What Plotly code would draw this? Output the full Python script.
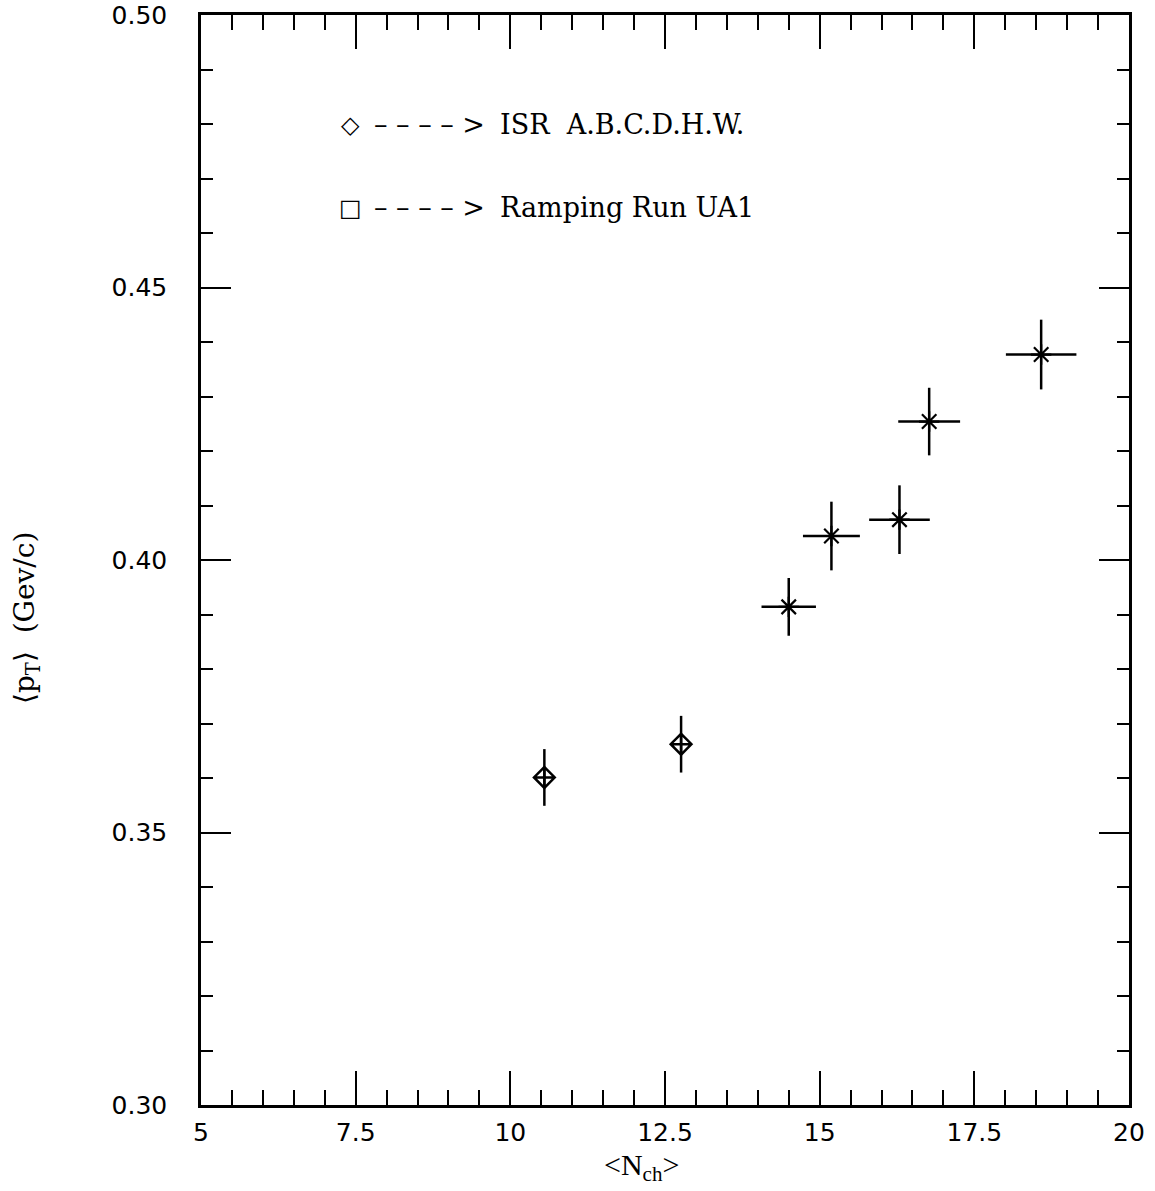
import plotly.graph_objects as go

# ISR A.B.C.D.H.W. (diamonds)
isr_x = [10.55, 12.76]
isr_y = [0.3601, 0.3662]
isr_ey = [0.0052, 0.0052]

# Ramping Run UA1 (stars)
ua1_x = [14.50, 15.19, 16.29, 16.77, 18.58]
ua1_y = [0.3914, 0.4044, 0.4074, 0.4254, 0.4377]
ua1_ey = [0.0053, 0.0063, 0.0063, 0.0062, 0.0064]
ua1_ex = [0.44, 0.46, 0.49, 0.50, 0.57]

x_ticks = [5, 7.5, 10, 12.5, 15, 17.5, 20]
x_labels = ["5", "7.5", "10", "12.5", "15", "17.5", "20"]
y_ticks = [0.30, 0.35, 0.40, 0.45, 0.50]
y_labels = ["0.30", "0.35", "0.40", "0.45", "0.50"]

legend_symbols = ["◇", "□"]
legend_texts = ["ISR  A.B.C.D.H.W.", "Ramping Run UA1"]

SERIF = "DejaVu Serif"
SERIF2 = "Liberation Serif"
SANS = "DejaVu Sans"

fig = go.Figure()
fig.add_trace(go.Scatter(
    x=isr_x, y=isr_y, mode="markers",
    marker=dict(symbol="diamond-cross-open", size=16, color="black",
                line=dict(width=2.5, color="black")),
    error_y=dict(type="data", array=isr_ey, visible=True, width=0,
                 thickness=2.5, color="black"),
    showlegend=False,
))
fig.add_trace(go.Scatter(
    x=ua1_x, y=ua1_y, mode="markers",
    marker=dict(symbol="asterisk-open", size=17, color="black",
                line=dict(width=2.2, color="black")),
    error_y=dict(type="data", array=ua1_ey, visible=True, width=0,
                 thickness=2.5, color="black"),
    error_x=dict(type="data", array=ua1_ex, visible=True, width=0,
                 thickness=2.5, color="black"),
    showlegend=False,
))

# plot-area pixel frame and helpers for paper coordinates
L, R, T, B = 201, 1129, 15, 1105
def px(xp):
    return (xp - L) / (R - L)
def py(yp):
    return (B - yp) / (B - T)

for sym, txt, yp in zip(legend_symbols, legend_texts, [125, 208]):
    fig.add_annotation(x=px(350), y=py(yp), xref="paper", yref="paper",
                       xanchor="center", yanchor="middle", showarrow=False,
                       text="<b>" + sym + "</b>",
                       font=dict(family=SANS, size=24, color="black"))
    fig.add_annotation(x=px(372), y=py(yp), xref="paper", yref="paper",
                       xanchor="left", yanchor="middle", showarrow=False,
                       text="– – – – >", font=dict(family=SERIF, size=27, color="black"))
    fig.add_annotation(x=px(498), y=py(yp), xref="paper", yref="paper",
                       xanchor="left", yanchor="middle", showarrow=False,
                       text=txt, font=dict(family=SERIF, size=27, color="black"))

# y axis title
fig.add_annotation(x=px(27), y=py(618), xref="paper", yref="paper",
                   xanchor="center", yanchor="middle", showarrow=False,
                   textangle=-90,
                   text="⟨p<sub>T</sub>⟩  (Gev/c)",
                   font=dict(family=SERIF, size=28, color="black"))

# x axis title
fig.add_annotation(x=px(641), y=py(1167), xref="paper", yref="paper",
                   xanchor="center", yanchor="middle", showarrow=False,
                   text="<N<sub>ch</sub>>",
                   font=dict(family=SERIF2, size=30, color="black"))

axis_common = dict(
    showline=True, linecolor="black", linewidth=2.5, mirror="ticks",
    ticks="inside", tickcolor="black", tickwidth=2,
    showgrid=False, zeroline=False, automargin=False,
    tickfont=dict(family=SANS, size=25, color="black"),
)

fig.update_xaxes(
    range=[5, 20], tickvals=x_ticks, ticktext=x_labels, ticklen=34,
    ticklabelstandoff=3,
    minor=dict(dtick=0.5, tick0=5, ticks="inside", ticklen=15,
               tickcolor="black", tickwidth=2, showgrid=False),
    **axis_common,
)
fig.update_yaxes(
    range=[0.30, 0.50], tickvals=y_ticks, ticktext=y_labels, ticklen=30,
    ticklabelstandoff=26,
    minor=dict(dtick=0.01, tick0=0.30, ticks="inside", ticklen=12,
               tickcolor="black", tickwidth=2, showgrid=False),
    **axis_common,
)

fig.update_layout(
    width=1155, height=1191,
    margin=dict(l=L, r=1155 - R, t=T, b=1191 - B),
    plot_bgcolor="white", paper_bgcolor="white",
)

fig.write_html("out.html")
